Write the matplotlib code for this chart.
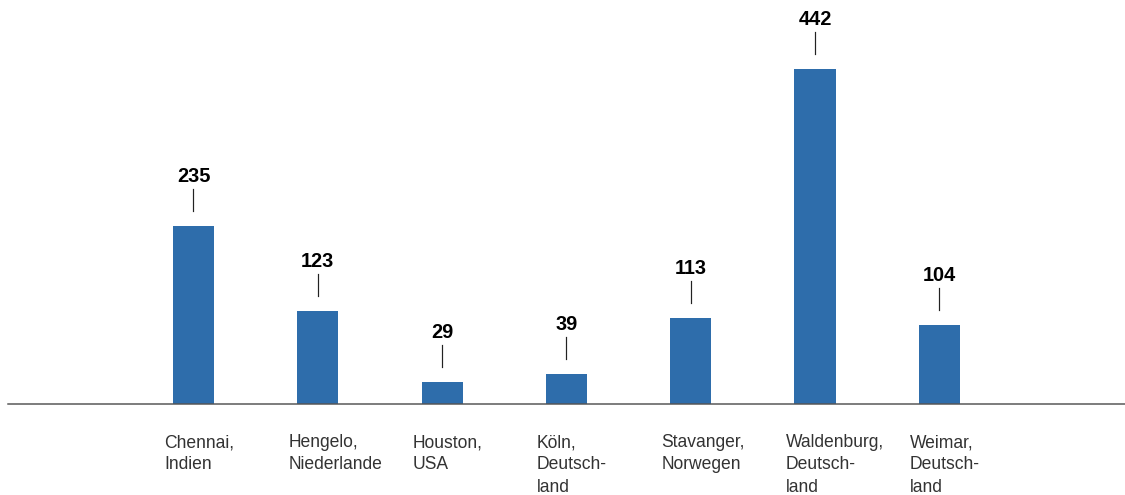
import matplotlib.pyplot as plt

# Data
cities = ["Chennai,\nIndien", "Hengelo,\nNiederlande", "Houston,\nUSA",
          "Köln,\nDeutsch-\nland", "Stavanger,\nNorwegen",
          "Waldenburg,\nDeutsch-\nland", "Weimar,\nDeutsch-\nland"]
values = [235, 123, 29, 39, 113, 442, 104]

BAR_COLOR = "#2E6DAB"
PX_PER_UNIT = 0.757

# 1 point == 1 pixel at dpi 72
fig = plt.figure(figsize=(1125 / 72, 495 / 72), dpi=72)
ax = fig.add_axes([0, 0, 1, 1])

x = list(range(len(values)))
ax.bar(x, values, width=0.33, color=BAR_COLOR, zorder=2)

# baseline
ax.axhline(0, xmin=8 / 1125, xmax=1, color="#555555", lw=1.5, zorder=3)

for xi, v, name in zip(x, values, cities):
    # short vertical line between value label and bar
    ax.plot([xi, xi], [v + 15 / PX_PER_UNIT, v + 37 / PX_PER_UNIT],
            color="#222222", lw=1.2)
    ax.annotate(str(v), xy=(xi, v), xytext=(0, 44), textcoords="offset points",
                ha="center", va="baseline", fontsize=20, fontweight="bold",
                family="Liberation Sans", color="black")
    ax.annotate(name, xy=(xi, 0), xytext=(-29.5, -30), textcoords="offset points",
                ha="left", va="top", fontsize=17.5, family="Liberation Sans",
                color="#333333", linespacing=1.42)

ax.set_xlim(-193.5 / 124.3, (1125 - 193.5) / 124.3)
ax.set_ylim(-91 / PX_PER_UNIT, 404 / PX_PER_UNIT)
ax.axis("off")

fig.savefig("out.png", dpi=72)
